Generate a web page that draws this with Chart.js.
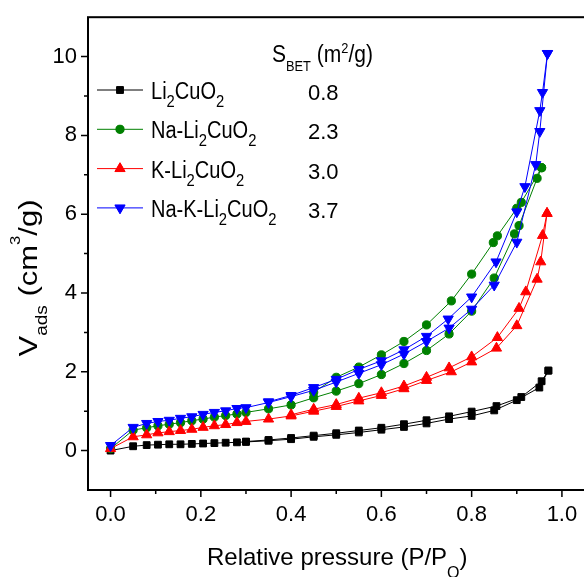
<!DOCTYPE html>
<html>
<head>
<meta charset="utf-8">
<title>N2 isotherms</title>
<script src="https://cdn.jsdelivr.net/npm/chart.js@4.4.0/dist/chart.umd.min.js"></script>
<style>
  html, body { margin: 0; padding: 0; background: #fff; overflow: hidden; }
  #wrap { width: 584px; height: 577px; overflow: hidden; }
</style>
</head>
<body>
<div id="wrap"><canvas id="iso" width="600" height="577"></canvas></div>
<script>
const FONT = '"Liberation Sans", Arial, sans-serif';

// samples, BET areas (m2/g), colours and markers
const sampleNames = ['Li2CuO2', 'Na-Li2CuO2', 'K-Li2CuO2', 'Na-K-Li2CuO2'];
const betAreas = ['0.8', '2.3', '3.0', '3.7'];
const colors = ['#000000', '#008000', '#ff0000', '#0000ff'];
const markers = ['rect', 'circle', 'triangle', 'triangle'];
const markerRotation = [0, 0, 0, 180];
const markerRadius = [4.8, 4.1, 5.9, 5.9];

const xTicks = [0, 0.2, 0.4, 0.6, 0.8, 1.0];
const yTicks = [0, 2, 4, 6, 8, 10];

// Li2CuO2
const liAdsP = [0, 0.05, 0.08, 0.105, 0.13, 0.155, 0.18, 0.205, 0.23, 0.255, 0.28, 0.30, 0.35, 0.40, 0.45, 0.50, 0.55, 0.60, 0.65, 0.70, 0.75, 0.80, 0.85, 0.90, 0.95, 0.97];
const liAdsV = [0.00, 0.11, 0.14, 0.15, 0.16, 0.16, 0.17, 0.18, 0.19, 0.20, 0.21, 0.22, 0.25, 0.29, 0.35, 0.40, 0.46, 0.53, 0.60, 0.69, 0.80, 0.88, 1.02, 1.28, 1.60, 2.03];
const liDesP = [0.97, 0.955, 0.91, 0.855, 0.80, 0.75, 0.70, 0.65, 0.60, 0.55, 0.50, 0.45, 0.40, 0.35, 0.30];
const liDesV = [2.03, 1.76, 1.36, 1.13, 0.99, 0.87, 0.77, 0.67, 0.58, 0.51, 0.44, 0.38, 0.32, 0.27, 0.23];

// Na-Li2CuO2
const naAdsP = [0, 0.05, 0.08, 0.105, 0.13, 0.155, 0.18, 0.205, 0.23, 0.255, 0.28, 0.30, 0.35, 0.40, 0.45, 0.50, 0.55, 0.60, 0.65, 0.70, 0.75, 0.80, 0.85, 0.895, 0.905, 0.945, 0.955];
const naAdsV = [0.05, 0.52, 0.58, 0.63, 0.67, 0.71, 0.76, 0.80, 0.85, 0.89, 0.93, 0.97, 1.06, 1.16, 1.34, 1.51, 1.70, 1.93, 2.21, 2.54, 2.96, 3.54, 4.38, 5.50, 5.71, 6.91, 7.18];
const naDesP = [0.955, 0.91, 0.90, 0.857, 0.848, 0.80, 0.755, 0.70, 0.65, 0.60, 0.55, 0.50, 0.45];
const naDesV = [7.18, 6.30, 6.15, 5.45, 5.28, 4.48, 3.80, 3.19, 2.77, 2.43, 2.12, 1.86, 1.48];

// K-Li2CuO2
const kAdsP = [0, 0.05, 0.08, 0.105, 0.13, 0.155, 0.18, 0.205, 0.23, 0.255, 0.28, 0.30, 0.35, 0.40, 0.45, 0.50, 0.55, 0.60, 0.65, 0.70, 0.755, 0.80, 0.855, 0.90, 0.945, 0.953, 0.967];
const kAdsV = [0.05, 0.35, 0.40, 0.45, 0.48, 0.51, 0.54, 0.59, 0.63, 0.66, 0.71, 0.74, 0.80, 0.88, 1.00, 1.12, 1.26, 1.40, 1.57, 1.78, 2.00, 2.25, 2.60, 3.17, 4.35, 4.79, 6.02];
const kDesP = [0.967, 0.957, 0.92, 0.905, 0.857, 0.80, 0.75, 0.70, 0.65, 0.60, 0.55, 0.50, 0.45, 0.40];
const kDesV = [6.02, 5.46, 4.03, 3.61, 2.87, 2.38, 2.10, 1.86, 1.64, 1.47, 1.33, 1.17, 1.05, 0.91];

// Na-K-Li2CuO2
const nkAdsP = [0, 0.05, 0.08, 0.105, 0.13, 0.155, 0.18, 0.205, 0.23, 0.255, 0.28, 0.30, 0.35, 0.40, 0.45, 0.50, 0.55, 0.60, 0.65, 0.70, 0.75, 0.80, 0.85, 0.90, 0.942, 0.951, 0.968];
const nkAdsV = [0.13, 0.59, 0.69, 0.74, 0.77, 0.82, 0.86, 0.92, 0.97, 1.01, 1.07, 1.09, 1.22, 1.37, 1.53, 1.74, 1.96, 2.18, 2.45, 2.77, 3.11, 3.59, 4.20, 5.29, 7.26, 8.10, 10.08];
const nkDesP = [0.968, 0.957, 0.951, 0.918, 0.90, 0.854, 0.80, 0.748, 0.70, 0.65, 0.60, 0.55, 0.50, 0.45, 0.40, 0.35];
const nkDesV = [10.08, 9.09, 8.63, 6.70, 6.06, 4.79, 3.90, 3.34, 2.90, 2.56, 2.28, 2.06, 1.81, 1.60, 1.40, 1.24];

const branches = [
  [liAdsP, liAdsV, liDesP, liDesV],
  [naAdsP, naAdsV, naDesP, naDesV],
  [kAdsP, kAdsV, kDesP, kDesV],
  [nkAdsP, nkAdsV, nkDesP, nkDesV]
];

function toPoints(px, py) {
  return px.map((p, i) => ({ x: p, y: py[i] }));
}

const datasets = [];
branches.forEach((b, i) => {
  [[b[0], b[1]], [b[2], b[3]]].forEach(([px, py]) => {
    datasets.push({
      data: toPoints(px, py),
      borderColor: colors[i],
      backgroundColor: colors[i],
      borderWidth: 1,
      pointStyle: markers[i],
      pointRotation: markerRotation[i],
      pointRadius: markerRadius[i],
      pointBorderWidth: 1,
      tension: 0,
      order: 4 - i
    });
  });
});

// text with sub/superscripts: parts = [[text, ''|'sub'|'sup'], ...]
function drawRich(ctx, parts, x, y, st, align, fitW) {
  const fontOf = k => (k === 'sub' ? st.sub : k === 'sup' ? st.sup : st.size) + 'px ' + FONT;
  let w = 0;
  parts.forEach(([t, k]) => { ctx.font = fontOf(k); w += ctx.measureText(t).width; });
  const sx = fitW ? fitW / w : (st.sx || 1);
  ctx.save();
  ctx.translate(x, y);
  ctx.scale(sx, 1);
  ctx.textAlign = 'left';
  ctx.textBaseline = 'alphabetic';
  ctx.fillStyle = '#000';
  let cx = align === 'center' ? -w / 2 : 0;
  parts.forEach(([t, k]) => {
    ctx.font = fontOf(k);
    const dy = k === 'sub' ? st.subDy : k === 'sup' ? st.supDy : 0;
    ctx.fillText(t, cx, dy);
    cx += ctx.measureText(t).width;
  });
  ctx.restore();
}

function formulaParts(name) {
  return name.split(/(\d)/).filter(s => s).map(s => (/^\d$/.test(s) ? [s, 'sub'] : [s, '']));
}

const decorPlugin = {
  id: 'decor',
  afterDraw(chart) {
    const { ctx, chartArea: a, scales: { x, y } } = chart;
    ctx.save();

    // frame
    ctx.strokeStyle = '#000';
    ctx.lineWidth = 2;
    ctx.strokeRect(a.left, a.top, a.right - a.left, a.bottom - a.top);

    // major and minor ticks, pointing out
    ctx.lineWidth = 1.5;
    ctx.beginPath();
    xTicks.forEach((v, i) => {
      const px = x.getPixelForValue(v);
      ctx.moveTo(px, a.bottom); ctx.lineTo(px, a.bottom + 7);
      if (i < xTicks.length - 1) {
        const pm = x.getPixelForValue((v + xTicks[i + 1]) / 2);
        ctx.moveTo(pm, a.bottom); ctx.lineTo(pm, a.bottom + 4);
      }
    });
    yTicks.forEach((v, i) => {
      const py = y.getPixelForValue(v);
      ctx.moveTo(a.left, py); ctx.lineTo(a.left - 7, py);
      if (i < yTicks.length - 1) {
        const pm = y.getPixelForValue((v + yTicks[i + 1]) / 2);
        ctx.moveTo(a.left, pm); ctx.lineTo(a.left - 4, pm);
      }
    });
    ctx.stroke();

    // axis titles
    drawRich(ctx, [['Relative pressure (P/P', ''], ['O', 'sub'], [')', '']], 207, 565,
      { size: 24, sub: 16, subDy: 13 }, 'left');
    ctx.save();
    ctx.translate(37, 278);
    ctx.rotate(-Math.PI / 2);
    drawRich(ctx, [['V', ''], ['ads', 'sub'], [' (cm', ''], ['3', 'sup'], ['/g)', '']], 0, 0,
      { size: 26, sub: 16, sup: 14, subDy: 9.5, supDy: -17 }, 'center', 157);
    ctx.restore();

    // legend with BET column
    drawRich(ctx, [['S', ''], ['BET', 'sub'], [' (m', ''], ['2', 'sup'], ['/g)', '']], 272, 62,
      { size: 23, sub: 14, sup: 14, subDy: 9, supDy: -9 }, 'left', 101);
    sampleNames.forEach((name, i) => {
      const ry = 90 + i * 39.3;
      ctx.strokeStyle = colors[i];
      ctx.lineWidth = 1;
      ctx.beginPath();
      ctx.moveTo(97, ry); ctx.lineTo(143, ry);
      ctx.stroke();
      ctx.fillStyle = colors[i];
      Chart.helpers.drawPoint(ctx, {
        pointStyle: markers[i], rotation: markerRotation[i],
        radius: markerRadius[i], borderWidth: 1
      }, 120, ry);
      ctx.fill();
      drawRich(ctx, formulaParts(name), 151, ry + 9,
        { size: 23, sub: 17, subDy: 8, sx: 0.87 }, 'left');
      ctx.font = '22px ' + FONT;
      ctx.fillStyle = '#000';
      ctx.textAlign = 'left';
      ctx.fillText(betAreas[i], 308, ry + 10);
    });
    ctx.restore();
  }
};

new Chart(document.getElementById('iso'), {
  type: 'line',
  data: { datasets },
  options: {
    responsive: false,
    animation: false,
    layout: { padding: { top: 13, right: 11, left: 0, bottom: 0 } },
    plugins: { legend: { display: false }, tooltip: { enabled: false } },
    scales: {
      x: {
        type: 'linear',
        min: -0.05,
        max: 1.06,
        afterBuildTicks: s => { s.ticks = xTicks.map(v => ({ value: v })); },
        afterFit: s => { s.height = 87; },
        ticks: {
          font: { family: FONT, size: 22 }, color: '#000', padding: 5,
          maxRotation: 0, autoSkip: false,
          callback: v => Number(v).toFixed(1)
        },
        grid: { display: false, drawTicks: true, tickLength: 7 },
        border: { display: false }
      },
      y: {
        min: -1,
        max: 11,
        afterBuildTicks: s => { s.ticks = yTicks.map(v => ({ value: v })); },
        afterFit: s => { s.width = 88; },
        ticks: {
          font: { family: FONT, size: 22 }, color: '#000', padding: 4,
          autoSkip: false,
          callback: v => String(v)
        },
        grid: { display: false, drawTicks: true, tickLength: 7 },
        border: { display: false }
      }
    }
  },
  plugins: [decorPlugin]
});
</script>
</body>
</html>
